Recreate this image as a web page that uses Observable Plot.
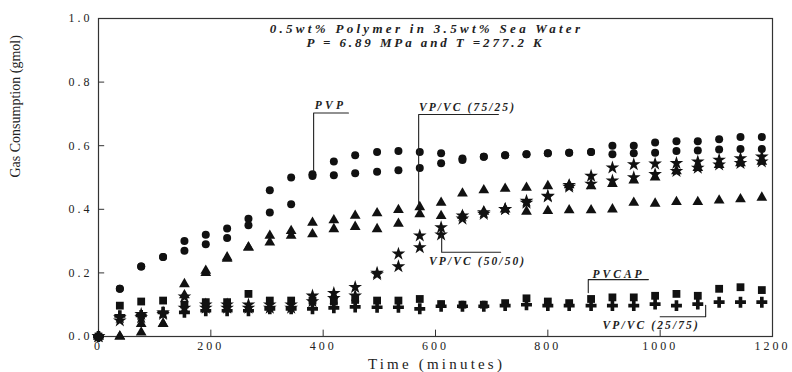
<!DOCTYPE html>
<html><head><meta charset="utf-8">
<script src="https://cdn.jsdelivr.net/npm/d3@7"></script>
<script src="https://cdn.jsdelivr.net/npm/@observablehq/plot@0.6"></script>
<style>
body{margin:0;background:#fff;}
#chart svg{display:block;}
g[aria-label$="tick label"] text, g[aria-label="x-axis"] text, g[aria-label="y-axis"] text {letter-spacing:3px;}
</style></head><body><div id="chart"></div>
<script>
// time (minutes)
const time = [0,38,76,115,153,191,229,267,305,343,381,419,457,496,534,572,610,648,686,724,762,800,838,877,915,953,991,1029,1067,1105,1143,1181];
// Gas consumption (gmol)
const pvpA = [0,0.15,0.22,0.25,0.30,0.32,0.34,0.37,0.46,0.50,0.51,0.55,0.57,0.58,0.583,0.58,0.576,0.56,0.565,0.57,0.573,0.576,0.578,0.58,0.60,0.60,0.61,0.614,0.614,0.62,0.627,0.627];
const pvpB = [0,0.15,0.22,0.25,0.27,0.29,0.31,0.35,0.39,0.416,0.505,0.507,0.513,0.518,0.523,0.53,0.545,0.555,0.565,0.57,0.573,0.576,0.578,0.58,0.573,0.576,0.578,0.583,0.585,0.588,0.59,0.59];
const vc7525A = [0,0,0.04,0.04,0.165,0.207,0.249,0.28,0.317,0.332,0.358,0.366,0.38,0.388,0.398,0.407,0.421,0.45,0.46,0.465,0.468,0.473,0.476,0.473,0.48,0.491,0.50,0.52,0.53,0.54,0.545,0.55];
const vc7525B = [0,0,0.013,0.04,0.13,0.20,0.245,0.28,0.296,0.317,0.322,0.338,0.345,0.338,0.355,0.385,0.379,0.38,0.393,0.40,0.393,0.395,0.397,0.397,0.40,0.421,0.418,0.423,0.423,0.428,0.432,0.437];
const vc5050A = [0,0.06,0.07,0.075,0.125,0.10,0.10,0.10,0.10,0.10,0.128,0.136,0.155,0.20,0.26,0.317,0.343,0.38,0.39,0.40,0.426,0.442,0.476,0.505,0.531,0.541,0.543,0.545,0.55,0.555,0.56,0.565];
const vc5050B = [0,0.05,0.06,0.07,0.09,0.09,0.09,0.09,0.09,0.09,0.11,0.12,0.128,0.195,0.22,0.28,0.32,0.37,0.385,0.40,0.42,0.44,0.47,0.48,0.49,0.50,0.51,0.52,0.53,0.54,0.545,0.55];
const pvcap = [0,0.097,0.11,0.113,0.10,0.108,0.108,0.134,0.113,0.113,0.113,0.11,0.115,0.113,0.113,0.118,0.102,0.10,0.10,0.105,0.12,0.11,0.105,0.118,0.123,0.123,0.128,0.134,0.128,0.15,0.155,0.146];
const vc2575 = [0,0.065,0.066,0.076,0.076,0.081,0.081,0.081,0.087,0.087,0.087,0.09,0.093,0.092,0.092,0.087,0.095,0.095,0.095,0.097,0.10,0.097,0.097,0.097,0.097,0.097,0.102,0.097,0.102,0.108,0.108,0.108];

const xTicks = [0,200,400,600,800,1000,1200];
const yTicks = [0,0.2,0.4,0.6,0.8,1.0];

const titleLine1 = "0.5wt% Polymer in 3.5wt% Sea Water";
const titleLine2 = "P = 6.89 MPa and T =277.2 K";
const xLabel = "Time (minutes)";
const yLabel = "Gas Consumption (gmol)";

// annotation labels (data coordinates)
const noteText = ["PVP","VP/VC (75/25)","VP/VC (50/50)","PVCAP","VP/VC (25/75)"];
const noteT = [413,657,675,926,984];
const noteV = [0.728,0.722,0.238,0.196,0.036];
// leader lines (data coordinates)
const leaderGroup = ["PVP","PVP","PVP","7525","7525","7525","5050","5050","5050","PVCAP","PVCAP","PVCAP","2575","2575","2575"];
const leaderT = [445,383,383, 712,570,570, 611,611,716, 979,872,872, 1000,1081,1081];
const leaderV = [0.703,0.703,0.52, 0.698,0.698,0.41, 0.318,0.265,0.265, 0.179,0.179,0.138, 0.062,0.062,0.098];

const series = [
  {values: pvpA, symbol: "circle", r: 4.0},
  {values: pvpB, symbol: "circle", r: 4.0},
  {values: vc7525A, symbol: "triangle", r: 4.0},
  {values: vc7525B, symbol: "triangle", r: 4.0},
  {values: vc5050A, symbol: "star", r: 4.3},
  {values: vc5050B, symbol: "star", r: 4.3},
  {values: pvcap, symbol: "square", r: 4.4},
  {values: vc2575, symbol: "cross", r: 4.6}
];
const toRows = vals => vals.map((v, i) => ({t: time[i], v}));
const notes = noteText.map((text, i) => ({text, t: noteT[i], v: noteV[i]}));
const leaders = leaderGroup.map((g, i) => ({g, t: leaderT[i], v: leaderV[i]}));

const serif = "'Liberation Serif', 'DejaVu Serif', serif";
const bi = {fontWeight: "bold", fontStyle: "italic", fill: "#222"};

const chart = Plot.plot({
  width: 792, height: 372,
  marginLeft: 98, marginRight: 20, marginTop: 18, marginBottom: 36,
  style: {fontFamily: serif, fontSize: "12px", color: "#222", background: "#fff"},
  x: {domain: [0, 1200], ticks: xTicks, tickSize: 0, tickPadding: 5, tickFormat: d3.format("d"), label: null},
  y: {domain: [0, 1], ticks: yTicks, tickSize: 0, tickPadding: 6, tickFormat: d3.format(".1f"), label: null},
  marks: [
    Plot.frame({stroke: "#333", strokeWidth: 1.2}),
    Plot.ruleX(xTicks, {x: d => d, y1: 0, y2: 0.02, stroke: "#333"}),
    Plot.ruleY(yTicks, {y: d => d, x1: 0, x2: 11, stroke: "#333"}),
    ...series.map(s => Plot.dot(toRows(s.values), {x: "t", y: "v", symbol: s.symbol, r: s.r, fill: "#111", stroke: null})),
    Plot.line(leaders, {x: "t", y: "v", z: "g", stroke: "#222", strokeWidth: 1.1, curve: "linear"}),
    Plot.text(notes, {x: "t", y: "v", text: "text", fontSize: 11.5, ...bi}),
    Plot.text([titleLine1], {frameAnchor: "top", lineAnchor: "middle", dx: -9, dy: 10, fontSize: 13, ...bi}),
    Plot.text([titleLine2], {frameAnchor: "top", lineAnchor: "middle", dx: -10, dy: 24, fontSize: 13, ...bi}),
    Plot.text([xLabel], {frameAnchor: "bottom", lineAnchor: "middle", dx: 1, dy: 27.5, fontSize: 15, fill: "#222"}),
    Plot.text([yLabel], {frameAnchor: "left", lineAnchor: "middle", dx: -83, rotate: -90, fontSize: 14, fill: "#222"})
  ]
});
const spacing = new Map([[titleLine1, 3.3], [titleLine2, 2.9], [xLabel, 3.2], ["PVP", 3.2], ["PVCAP", 3], ...noteText.slice(1).filter(t => t !== "PVCAP").map(t => [t, 2.1])]);
d3.select(chart).selectAll("text").each(function() {
  const s = spacing.get(this.textContent);
  if (s != null) this.style.letterSpacing = s + "px";
});
document.getElementById("chart").appendChild(chart);
</script></body></html>
